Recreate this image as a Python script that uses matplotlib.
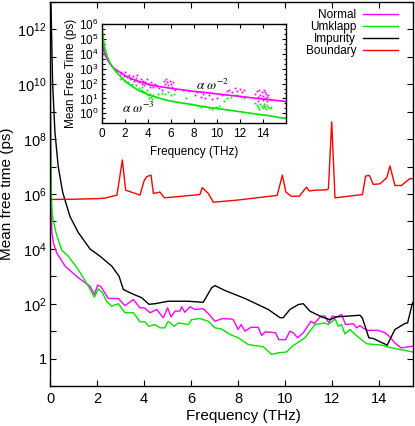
import numpy as np
import matplotlib
matplotlib.use('Agg')
import matplotlib.pyplot as plt
from matplotlib.ticker import FixedLocator, FuncFormatter, NullLocator

plt.rcParams['font.family'] = ['Liberation Sans', 'DejaVu Sans']
plt.rcParams['mathtext.fontset'] = 'custom'
plt.rcParams['mathtext.rm'] = 'Liberation Sans'
plt.rcParams['mathtext.it'] = 'Liberation Sans:italic'
plt.rcParams['mathtext.bf'] = 'Liberation Sans:bold'

# ---------------- main panel data (frequency in THz, log10 of mean free time in ps)
normal_freq = [0.0, 0.03, 0.05, 0.08, 0.15, 0.28, 0.64, 1.2, 1.70, 1.89,
               2.03, 2.17, 2.48, 2.91, 3.19, 3.55, 3.83, 4.01, 4.26, 4.54,
               4.82, 5.01, 5.15, 5.32, 5.53, 5.60, 5.74, 5.96, 6.17, 6.52,
               6.77, 7.02, 7.30, 7.66, 7.80, 8.01, 8.13, 8.30, 8.55, 8.86,
               9.01, 9.15, 9.40, 9.60, 9.74, 10.03, 10.21, 10.35, 10.54, 10.78,
               11.11, 11.25, 11.53, 11.70, 11.87, 12.01, 12.20, 12.41, 12.58, 12.91,
               13.05, 13.19, 13.37, 13.52, 13.97, 14.26, 14.47, 14.68, 14.94, 15.45]
normal_log10 = [13.5, 8.0, 5.5, 4.6, 4.2, 3.86, 3.37, 2.95, 2.64, 2.34,
                2.68, 2.62, 2.19, 2.19, 1.93, 2.15, 1.85, 1.85, 1.67, 1.79,
                1.49, 1.85, 1.52, 1.73, 1.73, 1.89, 1.69, 1.89, 1.79, 1.82,
                1.61, 1.36, 1.45, 1.45, 1.42, 1.06, 1.24, 1.0, 1.14, 1.14,
                0.84, 0.97, 0.96, 0.94, 0.69, 0.69, 1.0, 0.94, 0.76, 0.94,
                1.36, 1.28, 1.55, 1.55, 1.30, 1.55, 1.52, 1.61, 1.24, 1.27,
                1.12, 1.20, 1.09, 1.03, 1.03, 0.94, 0.79, 0.57, 0.39, 0.45]

umklapp_freq = [0.0, 0.02, 0.05, 0.1, 0.25, 0.5, 0.78, 1.2, 1.63, 1.89,
                2.06, 2.23, 2.41, 2.62, 2.91, 3.19, 3.55, 3.83, 4.04, 4.21,
                4.47, 4.68, 4.89, 5.03, 5.29, 5.46, 5.89, 6.03, 6.38, 6.74,
                7.02, 7.30, 7.66, 8.01, 8.44, 9.08, 9.43, 9.72, 10.07, 10.28,
                10.85, 11.28, 11.56, 11.70, 11.84, 12.13, 12.27, 12.41, 12.55, 12.77,
                12.98, 13.48, 14.11, 14.54, 15.45]
umklapp_log10 = [13.5, 9.0, 6.06, 5.2, 4.6, 3.95, 3.73, 3.25, 2.64, 2.24,
                 2.54, 2.40, 2.09, 1.91, 2.0, 1.67, 1.67, 1.34, 1.34, 1.18,
                 1.24, 1.12, 1.12, 1.36, 1.18, 1.30, 1.24, 1.42, 1.46, 1.36,
                 1.12, 1.08, 0.88, 0.76, 0.51, 0.43, 0.15, 0.21, 0.24, 0.43,
                 0.76, 1.24, 1.28, 1.30, 1.24, 1.45, 1.18, 1.24, 0.90, 1.06,
                 0.88, 0.54, 0.49, 0.39, 0.24]

impurity_freq = [0.0, 0.04, 0.11, 0.21, 0.35, 0.54, 0.85, 1.2, 1.7, 2.13,
                 2.63, 2.94, 3.12, 3.48, 3.90, 4.21, 4.47, 5.03, 5.89, 6.52,
                 6.88, 7.02, 7.45, 8.30, 9.29, 9.79, 9.93, 10.21, 10.57, 10.78,
                 11.06, 11.56, 11.91, 12.2, 13.19, 13.29, 13.57, 13.76, 14.35, 14.68,
                 15.11, 15.22, 15.42, 15.45]
impurity_log10 = [14.0, 13.0, 10.07, 8.25, 7.0, 6.06, 5.18, 4.6, 4.0, 3.73,
                  3.37, 3.0, 2.52, 2.37, 2.22, 1.98, 2.0, 2.09, 2.09, 2.05,
                  2.58, 2.66, 2.48, 2.19, 1.79, 1.49, 1.49, 1.79, 1.97, 2.0,
                  1.73, 1.52, 1.42, 1.52, 1.58, 1.49, 0.76, 0.73, 0.49, 1.06,
                  1.28, 1.30, 2.0, 2.05]

boundary_freq = [0.0, 1.0, 2.0, 2.34, 2.85, 3.08, 3.22, 3.83, 4.0, 4.11,
                 4.3, 4.4, 4.68, 4.87, 6.38, 6.48, 6.74, 6.95, 8.0, 9.67,
                 9.89, 10.04, 10.26, 10.61, 10.92, 11.03, 11.28, 11.77, 11.85, 11.99,
                 12.13, 13.3, 13.43, 13.59, 13.76, 14.04, 14.33, 14.47, 14.68, 14.96,
                 15.18, 15.32, 15.45]
boundary_log10 = [5.80, 5.81, 5.83, 5.85, 5.96, 7.24, 6.14, 5.96, 6.47, 6.63,
                  6.69, 6.02, 6.07, 5.86, 5.98, 6.23, 6.02, 5.70, 5.78, 5.95,
                  6.69, 6.07, 5.92, 5.92, 6.25, 6.11, 6.14, 6.15, 6.19, 8.63,
                  5.86, 5.98, 6.65, 6.68, 6.35, 6.37, 6.59, 7.02, 6.31, 6.31,
                  6.47, 6.56, 6.56]

main_xticks = [0, 2, 4, 6, 8, 10, 12, 14]
main_ydecades = list(range(-1, 14))

# ---------------- inset data
normal_fit_freq = [0.03, 0.08, 0.15, 0.25, 0.35, 0.5, 0.7, 0.93, 1.2, 1.51, 2.0, 2.67,
                   3.3, 4.13, 5.0, 6.0, 7.0, 8.0, 9.0, 10.5, 12.0, 13.5, 15.0, 16.0]
normal_fit_log10 = [4.92, 4.6, 4.3, 4.0, 3.82, 3.6, 3.35, 3.12, 2.95, 2.79, 2.55, 2.3,
                    2.12, 1.93, 1.80, 1.68, 1.58, 1.48, 1.40, 1.26, 1.14, 1.0, 0.88, 0.80]
umklapp_fit_freq = [0.03, 0.05, 0.1, 0.2, 0.3, 0.49, 0.7, 0.93, 1.2, 1.51, 2.0, 2.67, 3.3,
                    4.13, 5.0, 5.59, 6.5, 7.62, 8.5, 9.5, 10.53, 12.0, 13.45, 14.5, 15.48, 16.0]
umklapp_fit_log10 = [5.7, 5.6, 5.2, 4.7, 4.3, 3.8, 3.42, 3.13, 2.83, 2.57, 2.18, 1.79, 1.5,
                     1.23, 1.02, 0.89, 0.75, 0.62, 0.49, 0.38, 0.27, 0.11, -0.05, -0.15, -0.29, -0.33]

normal_pts_freq = [1.6, 1.7, 1.9, 2.0, 2.2, 2.4, 2.5, 2.7, 2.8, 3.0, 3.1, 3.2, 3.4, 3.5, 3.6,
                   3.7, 3.8, 3.9, 4.0, 4.1, 4.2, 4.3, 4.4, 4.5, 4.6, 4.8, 5.0, 5.2, 5.4, 5.5,
                   5.6, 5.7, 5.8, 5.9, 6.0, 6.1, 6.2, 6.4, 7.1, 7.6, 8.1, 8.3, 8.6, 8.8, 9.0,
                   9.3, 9.6, 10.0, 10.5, 10.9, 11.1, 11.3, 11.6, 11.8, 12.0, 12.2, 12.4, 13.3,
                   13.5, 13.6, 13.7, 13.8, 13.9, 14.0, 14.1, 14.2, 14.3, 14.4, 14.5, 14.6,
                   13.6, 14.0, 13.8, 14.2, 14.4]
normal_pts_log10 = [2.6, 2.75, 2.5, 2.8, 2.45, 2.6, 2.3, 2.5, 2.2, 2.35, 2.6, 2.1, 2.3, 2.0, 2.2,
                    1.9, 2.1, 2.3, 1.95, 2.0, 1.8, 2.1, 1.9, 1.75, 2.0, 1.85, 1.7, 1.6, 2.2, 2.0,
                    2.3, 2.1, 1.9, 2.2, 2.0, 1.8, 2.1, 1.6, 1.6, 1.5, 1.2, 1.4, 1.1, 1.3, 1.0,
                    1.2, 0.95, 1.05, 1.2, 1.5, 1.6, 1.4, 1.7, 1.5, 1.65, 1.45, 1.55, 1.3,
                    1.5, 1.1, 1.6, 1.2, 1.4, 0.9, 1.55, 1.0, 1.3, 0.8, 1.2, 0.95,
                    0.8, 1.15, 1.0, 1.4, 1.1]
umklapp_pts_freq = [1.6, 1.8, 2.0, 2.3, 2.6, 3.0, 3.2, 3.4, 3.5, 3.6, 3.8, 3.9, 4.0, 4.1, 4.2,
                    4.3, 4.4, 4.5, 4.7, 4.9, 5.2, 5.5, 5.8, 6.0, 6.3, 7.3, 7.8, 8.2, 8.6, 9.0,
                    9.3, 9.6, 9.9, 10.2, 10.6, 10.9, 11.2, 11.5, 11.8, 12.1, 12.4, 13.3, 13.5,
                    13.6, 13.8, 13.9, 14.0, 14.1, 14.2, 14.3, 14.4, 14.5, 14.6, 14.7, 13.7, 14.1]
umklapp_pts_log10 = [2.3, 2.4, 2.2, 2.1, 2.0, 1.9, 1.7, 1.6, 1.8, 1.5, 1.4, 1.6, 1.2, 1.0, 1.3,
                     1.1, 0.95, 1.2, 1.1, 1.3, 1.35, 1.3, 1.4, 1.25, 1.3, 1.0, 0.6, 0.55, 0.45, 0.5,
                     0.35, 0.3, 0.4, 0.5, 0.8, 1.0, 1.1, 1.2, 1.25, 1.1, 1.0, 0.7, 0.55,
                     0.4, 0.65, 0.5, 0.35, 0.6, 0.45, 0.3, 0.55, 0.4, 0.35, 0.45, 0.3, 0.5]

inset_xticks = [0, 2, 4, 6, 8, 10, 12, 14]
inset_ydecades = list(range(0, 7))

MAGENTA = '#ff00ff'
GREEN = '#00e600'
RED = '#ff0000'

fig = plt.figure(figsize=(4.15, 4.26), dpi=100)
ax = fig.add_axes([50 / 415, 1 - 386 / 426, 363 / 415, 384 / 426])

ax.plot(normal_freq, 10 ** np.array(normal_log10), color=MAGENTA, lw=1.0, label='Normal')
ax.plot(umklapp_freq, 10 ** np.array(umklapp_log10), color=GREEN, lw=1.0, label='Umklapp')
ax.plot(impurity_freq, 10 ** np.array(impurity_log10), color='black', lw=1.0, label='Impurity')
ax.plot(boundary_freq, 10 ** np.array(boundary_log10), color=RED, lw=1.0, label='Boundary')

ax.set_yscale('log')
ax.set_xlim(0, 15.45)
ax.set_ylim(0.1, 1e13)
ax.set_xticks(main_xticks)
ax.yaxis.set_major_locator(FixedLocator([10.0 ** k for k in main_ydecades]))
ax.yaxis.set_minor_locator(NullLocator())


def main_fmt(v, pos):
    k = int(round(np.log10(v)))
    if k % 2 or k < 0:
        return ''
    if k == 0:
        return '1'
    return r'$\mathdefault{10^{%d}}$' % k


ax.yaxis.set_major_formatter(FuncFormatter(main_fmt))
ax.tick_params(which='both', direction='in', top=True, right=True, length=4, width=0.8,
               labelsize=10.5)
ax.tick_params(axis='y', pad=2.5)
ax.tick_params(axis='x', pad=4.5)
for s in ax.spines.values():
    s.set_linewidth(1.0)
ax.set_xlabel('Frequency (THz)', fontsize=11)
ax.xaxis.set_label_coords(0.532, -0.06)
ax.set_ylabel('Mean free time (ps)', fontsize=11, labelpad=2)

leg = ax.legend(loc='upper right', bbox_to_anchor=(398 / 415, 1 - 9 / 426),
                bbox_transform=fig.transFigure, frameon=False, markerfirst=False,
                fontsize=8.5, handlelength=2.95, handletextpad=0.6, labelspacing=0.0,
                borderpad=0, borderaxespad=0)

# ---------------- inset
ax2 = fig.add_axes([101.7 / 415, 1 - 122.7 / 426, 184 / 415, 98.7 / 426])
ax2.plot(normal_pts_freq, 10 ** np.array(normal_pts_log10), linestyle='none', marker='s',
         ms=1.3, mew=0, color=MAGENTA)
ax2.plot(umklapp_pts_freq, 10 ** np.array(umklapp_pts_log10), linestyle='none', marker='s',
         ms=1.3, mew=0, color=GREEN)
ax2.plot(normal_fit_freq, 10 ** np.array(normal_fit_log10), color=MAGENTA, lw=1.2)
ax2.plot(umklapp_fit_freq, 10 ** np.array(umklapp_fit_log10), color=GREEN, lw=1.2)
ax2.set_yscale('log')
ax2.set_xlim(0, 16)
ax2.set_ylim(10 ** -0.63, 1e6)
ax2.set_xticks(inset_xticks)
ax2.yaxis.set_major_locator(FixedLocator([10.0 ** k for k in inset_ydecades]))
minor = []
for k in range(-1, 6):
    minor += [10 ** (k + 1 / 3), 10 ** (k + 2 / 3)]
ax2.yaxis.set_minor_locator(FixedLocator(minor))
ax2.yaxis.set_major_formatter(FuncFormatter(
    lambda v, pos: r'$\mathdefault{10^{%d}}$' % int(round(np.log10(v)))))
ax2.yaxis.set_minor_formatter(FuncFormatter(lambda v, pos: ''))
ax2.tick_params(which='both', direction='in', top=True, right=True, labelsize=8.5, width=0.8)
ax2.tick_params(which='major', length=3)
ax2.tick_params(which='minor', length=1.8)
ax2.tick_params(axis='y', pad=2.5)
ax2.tick_params(axis='x', pad=4)
for s in ax2.spines.values():
    s.set_linewidth(1.0)
ax2.set_xlabel('Frequency (THz)', fontsize=8.5, labelpad=4)
ax2.set_ylabel('Mean Free Time (ps)', fontsize=8.5, labelpad=1)
ax2.text(8.2, 10 ** 1.56, r'$\alpha\ \omega^{-2}$', fontsize=9.5, math_fontfamily='stix',
         ha='left', va='baseline')
ax2.text(1.78, 10 ** 0.0, r'$\alpha\ \omega^{-3}$', fontsize=9.5, math_fontfamily='stix',
         ha='left', va='baseline')

fig.savefig('out.png', dpi=100)
